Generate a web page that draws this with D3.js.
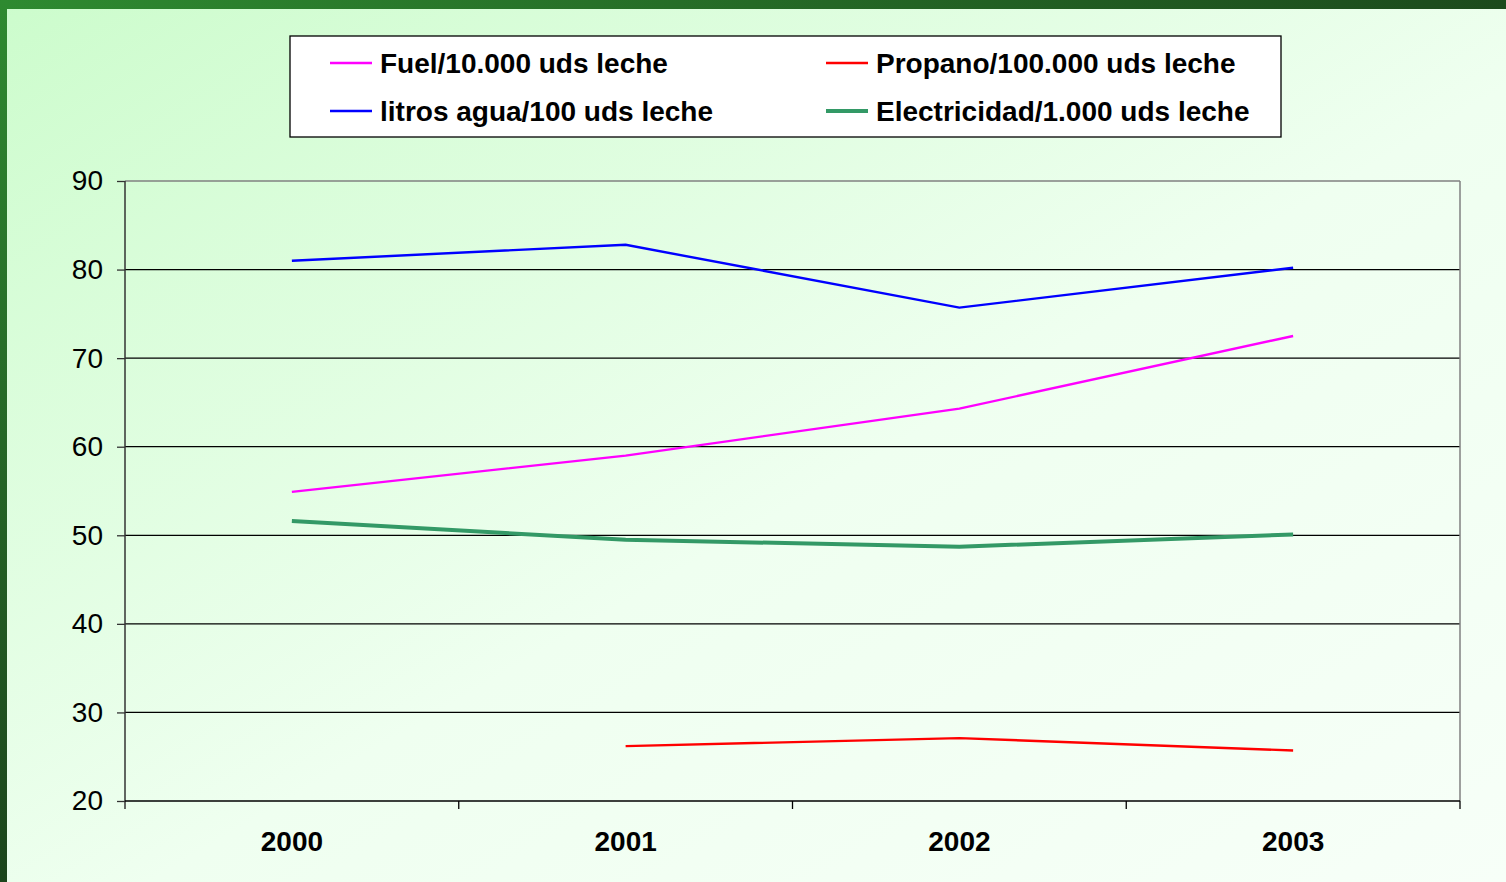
<!DOCTYPE html>
<html><head><meta charset="utf-8">
<script src="https://cdn.jsdelivr.net/npm/d3@7/dist/d3.min.js"></script>
<style>html,body{margin:0;padding:0;overflow:hidden;background:#fff}</style>
</head><body><svg id="c" width="1506" height="882"></svg>
<script>
const years = ["2000","2001","2002","2003"];
const fuel = [54.9, 59.0, 64.3, 72.5];
const agua = [81.0, 82.8, 75.7, 80.2];
const propano = [null, 26.2, 27.1, 25.7];
const electricidad = [51.6, 49.5, 48.7, 50.1];
const yTicks = [20,30,40,50,60,70,80,90];
const seriesNames = ["Fuel/10.000 uds leche","Propano/100.000 uds leche","litros agua/100 uds leche","Electricidad/1.000 uds leche"];

const series = [
  {name: seriesNames[0], values: fuel, color: "#ff00ff", w: 2.4},
  {name: seriesNames[1], values: propano, color: "#ff0000", w: 2.4},
  {name: seriesNames[2], values: agua, color: "#0000ff", w: 2.4},
  {name: seriesNames[3], values: electricidad, color: "#339966", w: 4}
];

const svg = d3.select("#c");
const defs = svg.append("defs");
const bg = defs.append("linearGradient").attr("id","bg").attr("x1","0").attr("y1","0").attr("x2","1").attr("y2","1");
bg.append("stop").attr("offset","0").attr("stop-color","#ccfccc");
bg.append("stop").attr("offset","0.55").attr("stop-color","#effff0");
bg.append("stop").attr("offset","1").attr("stop-color","#f7fff8");
const gt = defs.append("linearGradient").attr("id","gt").attr("x1","0").attr("y1","0").attr("x2","1").attr("y2","0");
gt.append("stop").attr("offset","0").attr("stop-color","#2e8a30");
gt.append("stop").attr("offset","1").attr("stop-color","#1c4a1c");
const gl = defs.append("linearGradient").attr("id","gl").attr("x1","0").attr("y1","0").attr("x2","0").attr("y2","1");
gl.append("stop").attr("offset","0").attr("stop-color","#2e8a30");
gl.append("stop").attr("offset","1").attr("stop-color","#1c451c");

svg.append("rect").attr("width",1506).attr("height",882).attr("fill","url(#bg)");
svg.append("rect").attr("x",0).attr("y",0).attr("width",1506).attr("height",9).attr("fill","url(#gt)");
svg.append("rect").attr("x",0).attr("y",0).attr("width",7).attr("height",882).attr("fill","url(#gl)");

const L = 125, R = 1460, T = 181, B = 801;
const FONT = "Liberation Sans, Arial, sans-serif";
const x = d3.scaleBand().domain(years).range([L, R]).padding(0);
const y = d3.scaleLinear().domain([20, 90]).range([B, T]);

// gridlines
svg.append("g").selectAll("line").data(yTicks.filter(t => t > 20 && t < 90)).join("line")
  .attr("x1", L).attr("x2", R).attr("y1", d => y(d)).attr("y2", d => y(d))
  .attr("stroke", "#000").attr("stroke-width", 1.3);
// plot border top/right
svg.append("line").attr("x1",L).attr("x2",R).attr("y1",y(90)).attr("y2",y(90)).attr("stroke","#808080").attr("stroke-width",1.5);
svg.append("line").attr("x1",R).attr("x2",R).attr("y1",y(90)).attr("y2",y(20)).attr("stroke","#808080").attr("stroke-width",1.5);

// y axis
const yAxis = svg.append("g").attr("transform", `translate(${L},0)`)
  .call(d3.axisLeft(y).tickValues(yTicks).tickSize(8).tickPadding(14).tickFormat(d3.format("d")));
yAxis.select(".domain").attr("stroke","#333").attr("stroke-width",1.5).attr("d", `M0,${T}V${B+8}`);
yAxis.selectAll(".tick line").attr("stroke","#333").attr("stroke-width",1.3);
yAxis.selectAll("text").attr("font-family",FONT).attr("font-size",28).attr("fill","#000");

// x axis
const xAxis = svg.append("g").attr("transform", `translate(0,${B})`)
  .call(d3.axisBottom(x).tickSize(0).tickPadding(30));
xAxis.select(".domain").attr("stroke","#000").attr("stroke-width",1.5).attr("d", `M${L},0H${R}`);
xAxis.selectAll("text").attr("font-family",FONT).attr("font-size",28).attr("font-weight","bold").attr("fill","#000");
// category boundary ticks
const bounds = years.map(d => x(d) + x.bandwidth());
svg.append("g").selectAll("line").data(bounds).join("line")
  .attr("x1", d => d).attr("x2", d => d).attr("y1", B).attr("y2", B + 8)
  .attr("stroke", "#000").attr("stroke-width", 1.3);

// lines
const line = d3.line().defined(d => d.v != null).x(d => x(d.k) + x.bandwidth()/2).y(d => y(d.v));
series.forEach(s => {
  svg.append("path").datum(years.map((k,i) => ({k, v: s.values[i]})))
    .attr("d", line).attr("fill","none").attr("stroke", s.color).attr("stroke-width", s.w)
    .attr("stroke-linejoin","miter");
});

// legend
const lg = svg.append("g");
lg.append("rect").attr("x",290).attr("y",36).attr("width",991).attr("height",101).attr("fill","#fff").attr("stroke","#000").attr("stroke-width",1.3);
const pos = [[330,63],[826,63],[330,111],[826,111]];
series.forEach((s,i) => {
  const [px,py] = pos[i];
  lg.append("line").attr("x1",px).attr("x2",px+42).attr("y1",py).attr("y2",py).attr("stroke",s.color).attr("stroke-width", s.w === 4 ? 4 : 2.5);
  lg.append("text").attr("x",px+50).attr("y",py+10).text(s.name)
    .attr("font-family",FONT).attr("font-size",28).attr("font-weight","bold").attr("fill","#000");
});
</script></body></html>
